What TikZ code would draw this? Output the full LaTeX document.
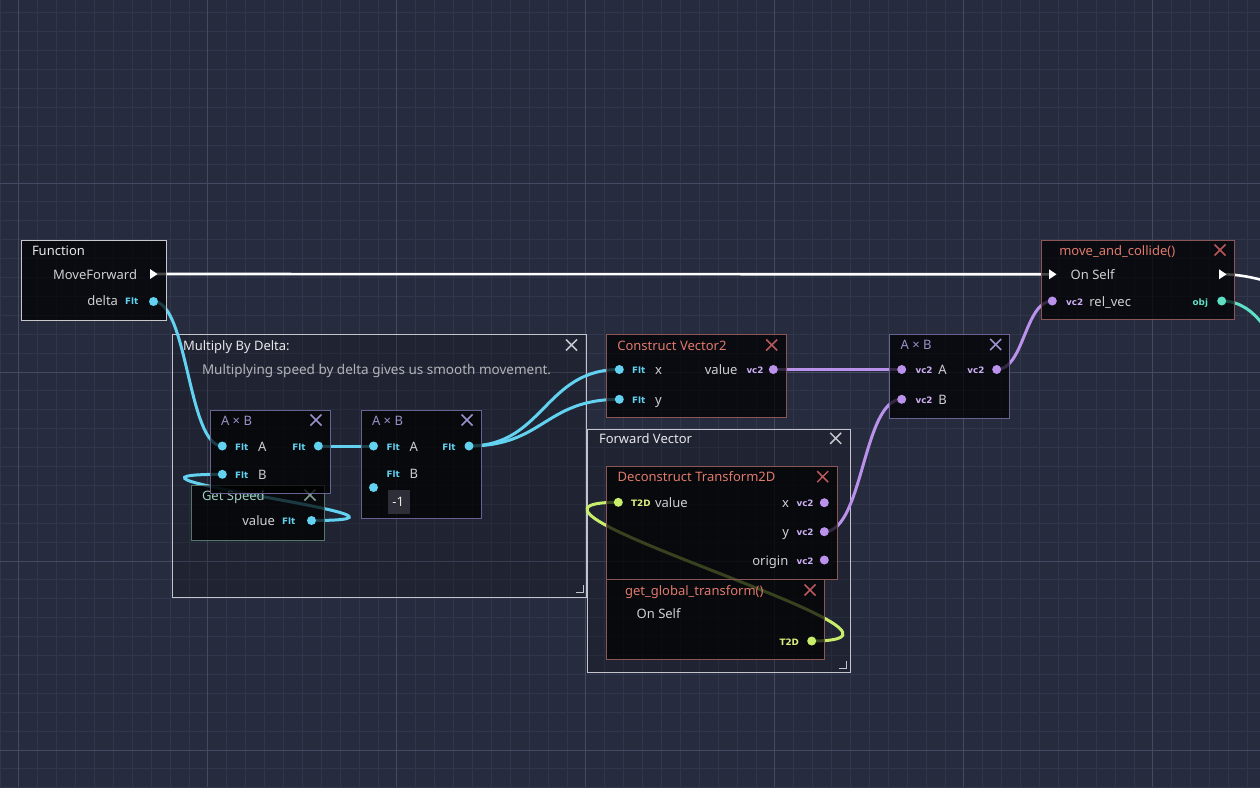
\documentclass[tikz,border=0pt]{standalone}
\usepackage{fontspec}
\setmainfont{Noto Sans}
\newfontfamily\gtagfont{DejaVu Sans}
\pgfdeclarelayer{gridlayer}
\pgfdeclarelayer{grouplayer}
\pgfdeclarelayer{wirelayer}
\pgfsetlayers{gridlayer,grouplayer,wirelayer,main}

\definecolor{bgc}{HTML}{262B3E}
\definecolor{gminc}{HTML}{30364B}
\definecolor{gmajc}{HTML}{444A62}
\definecolor{labc}{HTML}{CFCFD2}
\definecolor{comc}{HTML}{B4B4B8}
\definecolor{whitec}{HTML}{E8E8EA}
\definecolor{grpb}{HTML}{C4C4CC}
\definecolor{fnb}{HTML}{C8C8CC}
\definecolor{mulb}{HTML}{67628F}
\definecolor{mult}{HTML}{9A90CC}
\definecolor{gsb}{HTML}{56766A}
\definecolor{gst}{HTML}{9ED0BC}
\definecolor{gsx}{HTML}{7E9A8E}
\definecolor{redb}{HTML}{8A5656}
\definecolor{redt}{HTML}{E07A6C}
\definecolor{redx}{HTML}{B8585A}
\definecolor{cyanc}{HTML}{62D2F0}
\definecolor{purc}{HTML}{BA92EC}
\definecolor{purt}{HTML}{CDB0F4}
\definecolor{ygc}{HTML}{C8EE6C}
\definecolor{ygt}{HTML}{D8F27E}
\definecolor{tealc}{HTML}{5EE0C4}
\definecolor{valbg}{HTML}{2E2E38}

\newcommand\ufont{\fontsize{13}{15}\selectfont}
\newcommand\cfont{\fontsize{13.5}{15}\selectfont}
\newcommand\tfont{\gtagfont\bfseries\fontsize{8.8}{9}\selectfont}

\tikzset{
 lbl/.style={text=labc,font=\ufont,inner sep=0pt,outer sep=0pt,yshift=-2.5pt},
 lw/.style={lbl,anchor=mid west},
 le/.style={lbl,anchor=mid east},
 tg/.style={font=\tfont,inner sep=0pt,outer sep=0pt,text=#1,yshift=-1.5pt},
 tgw/.style={tg=#1,anchor=mid west},
 tge/.style={tg=#1,anchor=mid east},
 nbox/.style={draw=#1,fill=black,fill opacity=0.72,line width=1pt,inner sep=0pt,outer sep=0pt,anchor=north west},
 gbox/.style={draw=grpb,fill=black,fill opacity=0.18,line width=1pt,inner sep=0pt,outer sep=0pt,anchor=north west},
 pdot/.style={circle,fill=#1,inner sep=0pt,outer sep=0pt,minimum size=9pt},
 wire/.style={draw=#1,line width=3pt,line cap=round},
 execw/.style={draw=white,line width=2.6pt},
 closex/.pic={\draw[line width=1.5pt] (-5.5,-5.5) -- (5.5,5.5) (-5.5,5.5) -- (5.5,-5.5);},
 execarrow/.pic={\fill (-3.5,-5) -- (4,0) -- (-3.5,5) -- cycle;},
 rcorner/.pic={\draw[line width=1pt] (0,-7) -- (0,0) -- (-7,0);},
}

\begin{document}
\begin{tikzpicture}[x=1pt,y=-1pt]
\useasboundingbox (0,0) rectangle (1260,787);
\begin{pgfonlayer}{gridlayer}
\fill[bgc] (0,0) rectangle (1260,787);
\foreach \i in {0,...,66} {\draw[gminc,line width=1pt] ({\i*18.9},0) -- ({\i*18.9},787);}
\foreach \j in {0,...,41} {\draw[gminc,line width=1pt] (0,{12.9+\j*18.9}) -- (1260,{12.9+\j*18.9});}
\foreach \k in {0,...,6} {\draw[gmajc,line width=1pt] ({18.9+\k*189},0) -- ({18.9+\k*189},787);}
\foreach \k in {0,...,3} {\draw[gmajc,line width=1pt] (0,{183+\k*189}) -- (1260,{183+\k*189});}
\end{pgfonlayer}

% ---------- groups ----------
\begin{pgfonlayer}{grouplayer}
\node[gbox,minimum width=414pt,minimum height=263pt] (mbd) at (172,334) {};
\node[gbox,minimum width=263pt,minimum height=243pt] (fvg) at (587,429) {};
\end{pgfonlayer}
\node[lw,text=whitec] (mbdT) at (183,345) {Multiply By Delta:};
\path (571.5,345) pic[color=grpb]{closex};
\node[lw,text=comc,font=\cfont] (mbdC) at (202,369) {Multiplying speed by delta gives us smooth movement.};
\path (583,592) pic[color=grpb]{rcorner};
\node[lw,text=whitec] (fvgT) at (599,438.3) {Forward Vector};
\path (835.7,438.3) pic[color=grpb]{closex};
\path (846,668) pic[color=grpb]{rcorner};

% ---------- Function ----------
\node[nbox=fnb,minimum width=145pt,minimum height=80pt] (fn) at (21,240) {};
\node[lw,text=whitec] (fnT) at (32,250) {Function};
\node[le] (fnL1) at (137,274) {MoveForward};
\coordinate (fexec) at (153.5,274);
\path (fexec) pic[color=white]{execarrow};
\node[le] (fnL2) at (118,300) {delta};
\node[tgw=cyanc] (fnG2) at (125,300) {Flt};
\node[pdot=cyanc] (delta) at (153.5,301.5) {};

% ---------- Get Speed ----------
\node[nbox=gsb,minimum width=133pt,minimum height=55pt] (gs) at (191,485) {};
\node[lw,text=gst] (gsT) at (202,495) {Get Speed};
\path (310,495) pic[color=gsx]{closex};
\node[le] (gsL) at (275,520) {value};
\node[tgw=cyanc] (gsG) at (282,520) {Flt};
\node[pdot=cyanc] (gsv) at (311.5,520.5) {};

% ---------- A x B (1) ----------
\node[nbox=mulb,minimum width=120pt,minimum height=83pt] (m1) at (210,410) {};
\node[lw,text=mult] (m1T) at (221,420) {A × B};
\path (316,420) pic[color=mult]{closex};
\node[pdot=cyanc] (m1a) at (222.3,446) {};
\node[tgw=cyanc] (m1ga) at (235,446) {Flt};
\node[lw] (m1la) at (258,446) {A};
\node[tge=cyanc] (m1go) at (305.5,446) {Flt};
\node[pdot=cyanc] (m1o) at (318.3,446) {};
\node[pdot=cyanc] (m1b) at (222.3,474.3) {};
\node[tgw=cyanc] (m1gb) at (235,474) {Flt};
\node[lw] (m1lb) at (258,474) {B};

% ---------- A x B (2) ----------
\node[nbox=mulb,minimum width=120pt,minimum height=108pt] (m2) at (361,410) {};
\node[lw,text=mult] (m2T) at (372,420) {A × B};
\path (467,420) pic[color=mult]{closex};
\node[pdot=cyanc] (m2a) at (373.5,446) {};
\node[tgw=cyanc] (m2ga) at (386.5,446) {Flt};
\node[lw] (m2la) at (409.5,446) {A};
\node[tge=cyanc] (m2go) at (455.5,446) {Flt};
\node[pdot=cyanc] (m2o) at (469,446) {};
\node[tgw=cyanc] (m2gb) at (386.5,473) {Flt};
\node[lw] (m2lb) at (409.5,473) {B};
\node[pdot=cyanc] (m2b) at (373.5,487.5) {};
\node[fill=valbg,minimum width=22pt,minimum height=24pt,inner sep=0pt,anchor=north west] (m2v) at (387.5,489.5) {};
\node[text=whitec,font=\ufont,inner sep=0pt] (m2vt) at (398.3,501.5) {-1};

% ---------- Construct Vector2 ----------
\node[nbox=redb,minimum width=180pt,minimum height=83pt] (cv) at (606,334) {};
\node[lw,text=redt] (cvT) at (617.3,345) {Construct Vector2};
\path (771.7,345) pic[color=redx]{closex};
\node[pdot=cyanc] (cvx) at (619.3,369.5) {};
\node[tgw=cyanc] (cvgx) at (632,369.5) {Flt};
\node[lw] (cvlx) at (655,369.5) {x};
\node[le] (cvlo) at (737.5,369.5) {value};
\node[tgw=purt] (cvgo) at (746.5,369.5) {vc2};
\node[pdot=purc] (cvo) at (773.3,369.5) {};
\node[pdot=cyanc] (cvy) at (619.3,399.3) {};
\node[tgw=cyanc] (cvgy) at (632,399.3) {Flt};
\node[lw] (cvly) at (655,399.3) {y};

% ---------- A x B (3) ----------
\node[nbox=mulb,minimum width=120pt,minimum height=84pt] (m3) at (889,334) {};
\node[lw,text=mult] (m3T) at (900.7,344.5) {A × B};
\path (995.7,344.5) pic[color=mult]{closex};
\node[pdot=purc] (m3a) at (901.7,369.5) {};
\node[tgw=purt] (m3ga) at (915.5,369.5) {vc2};
\node[lw] (m3la) at (938.3,369.5) {A};
\node[tge=purt] (m3go) at (984.5,369.5) {vc2};
\node[pdot=purc] (m3o) at (996.7,369.5) {};
\node[pdot=purc] (m3b) at (901.7,399.3) {};
\node[tgw=purt] (m3gb) at (915.5,399.3) {vc2};
\node[lw] (m3lb) at (938.3,399.3) {B};

% ---------- move_and_collide() ----------
\node[nbox=redb,minimum width=193pt,minimum height=79pt] (mac) at (1041,240) {};
\node[lw,text=redt] (macT) at (1059.3,250) {move\_and\_collide()};
\path (1220,250) pic[color=redx]{closex};
\coordinate (macx) at (1052.5,274.3);
\path (macx) pic[color=white]{execarrow};
\node[lw] (macl1) at (1070.7,274.3) {On Self};
\coordinate (macxo) at (1222.5,274.3);
\path (macxo) pic[color=white]{execarrow};
\node[pdot=purc] (macv) at (1052.3,301) {};
\node[tgw=purt] (macg) at (1066.2,301) {vc2};
\node[lw] (macl2) at (1089.3,301) {rel\_vec};
\node[tge=tealc] (macgo) at (1208,301) {obj};
\node[pdot=tealc] (maco) at (1221.7,301) {};

% ---------- Deconstruct Transform2D ----------
\node[nbox=redb,minimum width=231pt,minimum height=113pt] (dt) at (606,466) {};
\node[lw,text=redt] (dtT) at (617.7,476.7) {Deconstruct Transform2D};
\path (822.7,476.7) pic[color=redx]{closex};
\node[pdot=ygc] (dtv) at (618.3,502.3) {};
\node[tgw=ygt] (dtgv) at (631.2,502) {T2D};
\node[lw] (dtlv) at (655,502) {value};
\node[le] (dtlx) at (789,502.7) {x};
\node[tgw=purt] (dtgx) at (796.5,502.7) {vc2};
\node[pdot=purc] (dtx) at (824.3,502.7) {};
\node[le] (dtly) at (789,531.7) {y};
\node[tgw=purt] (dtgy) at (796.5,531.7) {vc2};
\node[pdot=purc] (dty) at (824.3,531.7) {};
\node[le] (dtlo) at (788.3,560) {origin};
\node[tgw=purt] (dtgo) at (796.5,560) {vc2};
\node[pdot=purc] (dto) at (824.3,560) {};

% ---------- get_global_transform() ----------
\node[nbox=redb,minimum width=218pt,minimum height=80pt] (gg) at (606,579) {};
\node[lw,text=redt] (ggT) at (625,590) {get\_global\_transform()};
\path (810,590) pic[color=redx]{closex};
\node[lw] (ggl) at (636.7,613.3) {On Self};
\node[tge=ygt] (ggg) at (799,641) {T2D};
\node[pdot=ygc] (ggo) at (811.7,641) {};

% ---------- wires ----------
\coordinate (offw) at (1400,320);
\coordinate (offt) at (1360,450);
\begin{pgfonlayer}{wirelayer}
\draw[execw] (fexec) -- (macx);
\draw[execw] (macxo) .. controls +(60,0) and +(-60,0) .. (offw);
\draw[wire=tealc] (maco.center) .. controls +(69,0) and +(-69,0) .. (offt);
\draw[wire=cyanc] (delta.center) .. controls +(34.5,0) and +(-34.5,0) .. (m1a.center);
\draw[wire=cyanc] (gsv.center) .. controls +(160,0) and +(-160,0) .. (m1b.center);
\draw[wire=cyanc] (m1o.center) -- (m2a.center);
\draw[wire=cyanc] (m2o.center) .. controls +(75,0) and +(-75,0) .. (cvx.center);
\draw[wire=cyanc] (m2o.center) .. controls +(75,0) and +(-75,0) .. (cvy.center);
\draw[wire=purc] (cvo.center) -- (m3a.center);
\draw[wire=purc] (m3o.center) .. controls +(27.5,0) and +(-27.5,0) .. (macv.center);
\draw[wire=purc] (dty.center) .. controls +(39,0) and +(-39,0) .. (m3b.center);
\draw[wire=ygc] (ggo.center) .. controls +(160,0) and +(-160,0) .. (dtv.center);
\end{pgfonlayer}
\end{tikzpicture}
\end{document}
